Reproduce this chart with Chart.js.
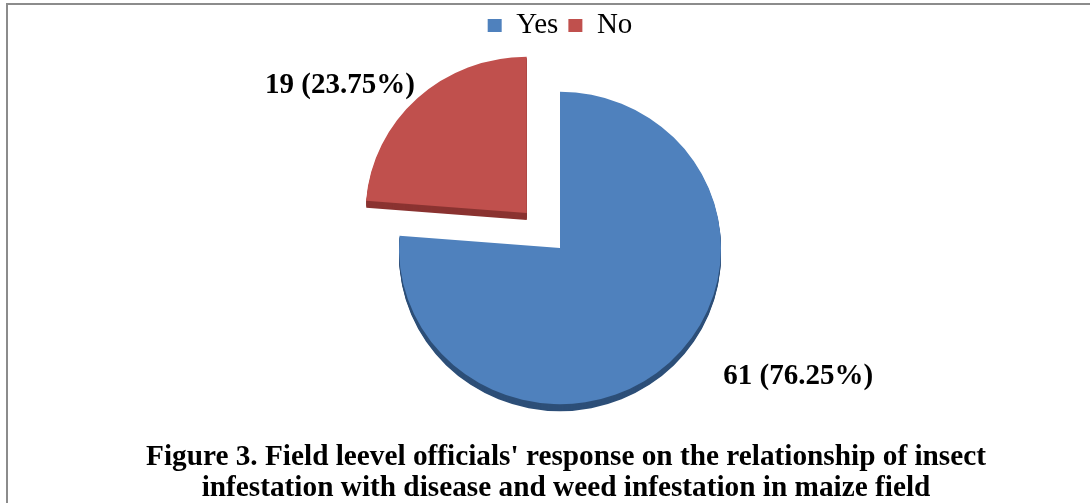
<!DOCTYPE html>
<html>
<head>
<meta charset="utf-8">
<script src="https://cdn.jsdelivr.net/npm/chart.js@4.4.1/dist/chart.umd.min.js"></script>
<style>
  html, body { margin: 0; padding: 0; background: #fff; }
  #wrap { width: 1090px; height: 503px; position: relative; }
</style>
</head>
<body>
<div id="wrap"><canvas id="c"></canvas></div>
<script>
const categories = ['Yes', 'No'];
const counts = [61, 19];
const percents = [76.25, 23.75];
const titleLines = [
  "Figure 3. Field leevel officials' response on the relationship of insect",
  "infestation with disease and weed infestation in maize field"
];

const faceColors = ['#4f81bd', '#c0504d'];
const sideColors = ['#2d4f78', '#8a3331'];

const frameBorder = {
  id: 'frameBorder',
  beforeDraw(chart) {
    const ctx = chart.ctx;
    ctx.save();
    ctx.fillStyle = '#fff';
    ctx.fillRect(0, 0, chart.width, chart.height);
    ctx.strokeStyle = '#8c8c8c';
    ctx.lineWidth = 2;
    ctx.strokeRect(7, 4, chart.width + 20, chart.height + 20);
    ctx.restore();
  }
};

function arcGeom(el) {
  const p = el.getProps(['x', 'y', 'startAngle', 'endAngle', 'outerRadius'], true);
  const off = (el.options.offset || 0) / 4;
  const mid = (p.startAngle + p.endAngle) / 2;
  return { p, mid, cx: p.x + Math.cos(mid) * off, cy: p.y + Math.sin(mid) * off };
}

const pie3d = {
  id: 'pie3d',
  beforeDatasetsDraw(chart, args, opts) {
    const ctx = chart.ctx;
    const meta = chart.getDatasetMeta(0);
    const base = meta.data[0].getProps(['x', 'y'], true);
    ctx.save();
    ctx.translate(base.x, base.y);
    ctx.scale(1, opts.squash);
    ctx.translate(-base.x, -base.y);
    const depth = opts.depth / opts.squash;
    meta.data.forEach((el, i) => {
      const g = arcGeom(el);
      ctx.fillStyle = sideColors[i];
      for (let d = depth; d >= 1; d--) {
        ctx.beginPath();
        ctx.moveTo(g.cx, g.cy + d);
        ctx.arc(g.cx, g.cy + d, g.p.outerRadius, g.p.startAngle, g.p.endAngle);
        ctx.closePath();
        ctx.fill();
      }
    });
  },
  afterDatasetsDraw(chart) {
    chart.ctx.restore();
  }
};

const valueLabels = {
  id: 'valueLabels',
  afterDatasetsDraw(chart, args, opts) {
    const ctx = chart.ctx;
    const meta = chart.getDatasetMeta(0);
    ctx.save();
    ctx.font = 'bold 29px "Liberation Serif", "Times New Roman", serif';
    ctx.fillStyle = '#000';
    ctx.textAlign = 'center';
    ctx.textBaseline = 'middle';
    meta.data.forEach((el, i) => {
      const g = arcGeom(el);
      const a = g.mid + opts.angleShift[i] * Math.PI / 180;
      const r = g.p.outerRadius * opts.distance[i];
      const txt = counts[i] + ' (' + percents[i].toFixed(2) + '%)';
      ctx.fillText(txt, g.cx + Math.cos(a) * r, g.cy + Math.sin(a) * r);
    });
    ctx.restore();
  }
};

const captionPlugin = {
  id: 'caption',
  afterDraw(chart, args, opts) {
    const ctx = chart.ctx;
    ctx.save();
    ctx.font = 'bold 29px "Liberation Serif", "Times New Roman", serif';
    ctx.fillStyle = '#000';
    ctx.textAlign = 'center';
    ctx.textBaseline = 'alphabetic';
    const w0 = ctx.measureText(titleLines[0]).width;
    const sx = opts.width / w0;
    titleLines.forEach((line, i) => {
      ctx.save();
      ctx.translate(opts.centerX, opts.baselines[i]);
      ctx.scale(sx, 1);
      ctx.fillText(line, 0, 0);
      ctx.restore();
    });
    ctx.restore();
  }
};

new Chart(document.getElementById('c'), {
  type: 'pie',
  data: {
    labels: categories,
    datasets: [{
      data: counts,
      backgroundColor: faceColors,
      borderWidth: 0,
      offset: [0, 196],
      hoverOffset: 0,
      radius: 161
    }]
  },
  options: {
    responsive: true,
    maintainAspectRatio: false,
    animation: false,
    events: [],
    layout: { padding: { top: 1, left: 30, right: 0, bottom: 57 } },
    plugins: {
      legend: {
        display: true,
        position: 'top',
        labels: {
          boxWidth: 14,
          boxHeight: 13,
          padding: 10,
          color: '#000',
          font: { family: '"Liberation Serif", "Times New Roman", serif', size: 29 }
        }
      },
      title: { display: false },
      tooltip: { enabled: false },
      pie3d: { depth: 7, squash: 0.97 },
      valueLabels: { angleShift: [-19, -13.2], distance: [1.68, 1.40] },
      caption: { width: 840, centerX: 566, baselines: [465, 496] }
    }
  },
  plugins: [frameBorder, pie3d, valueLabels, captionPlugin]
});
</script>
</body>
</html>
